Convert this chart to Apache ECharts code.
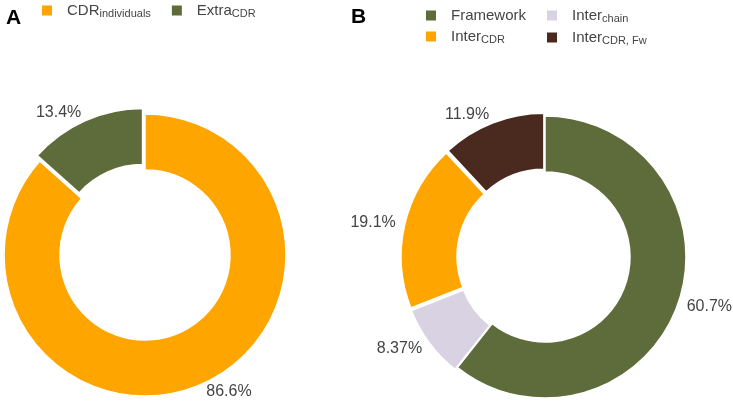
<!DOCTYPE html>
<html style="height: 100%">
<head>
<meta charset="utf-8">
<script src="https://cdn.jsdelivr.net/npm/echarts@6/dist/echarts.min.js"></script>
</head>
<body style="height: 100%; margin: 0; background: #fff">
<div id="container" style="width: 733px; height: 404px"></div>
<script>
// panel A
var namesA = ['CDR_individuals', 'Extra_CDR'];
var valuesA = [86.6, 13.4];
var pulledA = [false, true];
var colorsA = ['#ffa500', '#5e6b3b'];

// panel B
var namesB = ['Framework', 'Inter_chain', 'Inter_CDR', 'Inter_CDR_Fw'];
var valuesB = [60.7, 8.37, 19.1, 11.9];
var pulledB = [false, true, true, true];
var colorsB = ['#5e6b3b', '#d9d2e2', '#ffa500', '#4a2a1f'];

// legend text, main part + subscript
var legendText = {
    'CDR_individuals': ['CDR', 'individuals'],
    'Extra_CDR': ['Extra', 'CDR'],
    'Framework': ['Framework', ''],
    'Inter_chain': ['Inter', 'chain'],
    'Inter_CDR': ['Inter', 'CDR'],
    'Inter_CDR_Fw': ['Inter', 'CDR, Fw']
};

var font = "'Liberation Sans', Arial, sans-serif";

var dom = document.getElementById('container');
var myChart = echarts.init(dom);

function makeData(names, values, colors, pulled) {
    return names.map(function (n, i) {
        return {
            name: n,
            value: values[i],
            selected: pulled[i],
            itemStyle: { color: colors[i] }
        };
    });
}

function legendFormat(name) {
    var t = legendText[name];
    return '{m|' + t[0] + '}' + (t[1] ? '{s|' + t[1] + '}' : '');
}

var legendRich = {
    m: { fontSize: 15, color: '#444', fontFamily: font, padding: [0, 0, 0, 9] },
    s: { fontSize: 11, color: '#444', fontFamily: font, padding: [6, 0, 0, 0] }
};

function legend(data, left, top, orient, gap) {
    return {
        data: data,
        left: left,
        top: top,
        orient: orient,
        padding: 0,
        itemGap: gap,
        itemWidth: 12,
        itemHeight: 12,
        icon: 'rect',
        selectedMode: false,
        formatter: legendFormat,
        textStyle: { rich: legendRich }
    };
}

function pie(data, center, offset) {
    return {
        type: 'pie',
        center: center,
        radius: [85, 141],
        startAngle: 90,
        clockwise: true,
        avoidLabelOverlap: false,
        selectedMode: 'multiple',
        selectedOffset: offset,
        animation: false,
        itemStyle: { borderColor: '#fff', borderWidth: 1.5 },
        select: { itemStyle: { borderColor: '#fff', borderWidth: 1.5 } },
        emphasis: { scale: false },
        label: {
            show: true,
            position: 'outside',
            distanceToLabelLine: 0,
            fontSize: 16,
            fontFamily: font,
            color: '#444',
            formatter: function (p) {
                return Number(p.value.toPrecision(3)) + '%';
            }
        },
        labelLine: { show: false, length: 9, length2: 0 },
        data: data
    };
}

var option = {
    backgroundColor: '#fff',
    graphic: [
        { type: 'text', left: 6, top: 8, style: { text: 'A', font: 'bold 21px ' + font, fill: '#000' } },
        { type: 'text', left: 351, top: 7, style: { text: 'B', font: 'bold 21px ' + font, fill: '#000' } }
    ],
    legend: [
        legend(namesA, 40, 3, 'horizontal', 19),
        legend([namesB[0], namesB[2]], 424, 8, 'vertical', 6),
        legend([namesB[1], namesB[3]], 545, 8, 'vertical', 6)
    ],
    series: [
        pie(makeData(namesA, valuesA, colorsA, pulledA), [145, 255], 6),
        pie(makeData(namesB, valuesB, colorsB, pulledB), [545, 257], 3)
    ]
};

if (option && typeof option === 'object') {
    myChart.setOption(option);
}
</script>
</body>
</html>
